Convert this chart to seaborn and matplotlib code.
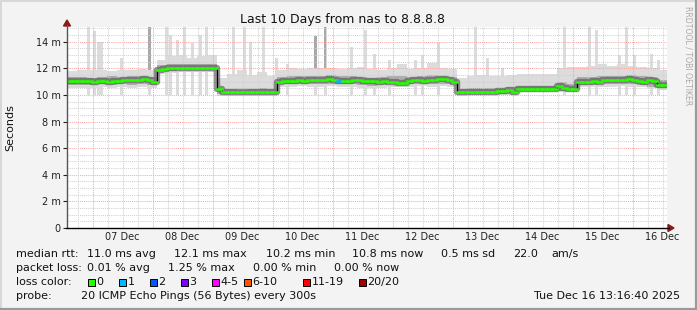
import numpy as np
import pandas as pd
import matplotlib
matplotlib.use("Agg")
import matplotlib.pyplot as plt
from matplotlib.patches import Rectangle, Polygon
from matplotlib.lines import Line2D
import seaborn as sns

# ---------------- data ----------------
START = 0.575            # days since 06 Dec 00:00 (left edge of graph)
SPAN = 10.0              # days shown

# median rtt (ms), 2-hour bins
median_ms = [
    11.05, 11.05, 11.05, 11.08, 11.08, 11.00, 11.05, 11.05, 10.97, 11.02,
    11.05, 11.10, 11.15, 11.10, 11.10, 11.20, 11.10, 11.00, 11.85, 11.98,
    12.00, 12.00, 12.00, 12.02, 12.05, 12.00, 12.00, 12.05, 12.05, 12.05,
    10.45, 10.25, 10.20, 10.20, 10.20, 10.20, 10.20, 10.22, 10.25, 10.25,
    10.20, 10.20, 10.95, 11.05, 11.05, 11.08, 11.10, 11.05, 11.10, 11.10,
    11.12, 11.15, 11.22, 11.10, 11.05, 11.08, 11.05, 11.10, 11.10, 11.05,
    11.05, 11.05, 11.00, 11.05, 11.00, 10.95, 10.90, 10.90, 11.05, 11.10,
    11.10, 11.05, 11.10, 11.10, 11.20, 11.22, 11.15, 11.00, 10.20, 10.25,
    10.25, 10.22, 10.25, 10.25, 10.22, 10.25, 10.28, 10.30, 10.35, 10.22,
    10.45, 10.45, 10.45, 10.45, 10.45, 10.47, 10.45, 10.45, 10.70, 10.55,
    10.45, 10.42, 10.98, 10.98, 11.00, 11.05, 11.00, 11.10, 11.10, 11.10,
    11.10, 11.15, 11.20, 11.10, 11.05, 10.95, 11.10, 11.05, 10.75, 10.72,
]
loss_bins = [54]          # 2-hour bins with packet loss
loss_counts = [1]

# smoke envelope (ms), 4-hour bins
smoke_lo = [
    10.50, 10.55, 10.55, 10.60, 10.55, 10.60, 10.55, 10.60, 10.55,
    11.55, 11.65, 11.70, 11.70, 11.70, 11.70,
    9.95, 9.95, 9.95, 9.95, 9.95, 9.95,
    10.60, 10.60, 10.65, 10.60, 10.60, 10.65, 10.60, 10.60, 10.55, 10.50,
    10.55, 10.60, 10.60, 10.60, 10.65, 10.60, 10.65, 10.60,
    9.95, 10.00, 10.00, 10.00, 10.00, 10.00,
    10.20, 10.20, 10.20, 10.20,
    10.20, 10.25,
    10.60, 10.60, 10.60, 10.60, 10.65, 10.60, 10.60, 10.50, 10.40,
]
smoke_mid_lo = [
    10.75, 10.78, 10.75, 10.80, 10.75, 10.80, 10.78, 10.80, 10.75,
    11.80, 11.82, 11.85, 11.85, 11.85, 11.85,
    10.05, 10.05, 10.05, 10.05, 10.05, 10.05,
    10.80, 10.82, 10.85, 10.82, 10.85, 10.85, 10.82, 10.80, 10.75, 10.70,
    10.75, 10.80, 10.80, 10.82, 10.85, 10.85, 10.85, 10.80,
    10.08, 10.10, 10.10, 10.10, 10.10, 10.12,
    10.30, 10.30, 10.30, 10.30,
    10.30, 10.30,
    10.75, 10.78, 10.80, 10.82, 10.85, 10.85, 10.78, 10.60, 10.50,
]
smoke_mid_hi = [
    11.35, 11.35, 11.30, 11.35, 11.40, 11.35, 11.40, 11.45, 11.35,
    12.25, 12.30, 12.30, 12.30, 12.35, 12.30,
    10.45, 10.45, 10.40, 10.45, 10.50, 10.45,
    11.35, 11.40, 11.40, 11.40, 11.45, 11.50, 11.40, 11.40, 11.35, 11.30,
    11.35, 11.40, 11.40, 11.35, 11.45, 11.50, 11.45, 11.35,
    10.45, 10.50, 10.50, 10.50, 10.55, 10.60,
    10.65, 10.65, 10.65, 10.70,
    10.95, 10.80,
    11.35, 11.35, 11.40, 11.40, 11.45, 11.50, 11.40, 11.35, 11.10,
]
smoke_hi = [
    11.80, 11.85, 11.90, 11.85, 11.80, 11.90, 11.85, 11.95, 11.85,
    12.60, 12.90, 13.00, 12.80, 12.90, 13.00,
    11.30, 11.60, 11.90, 11.50, 11.70, 11.40,
    11.90, 12.00, 11.95, 12.00, 12.05, 12.00, 11.95, 12.00, 12.10, 11.95,
    11.90, 12.00, 12.30, 11.95, 12.05, 12.40, 12.00, 11.95,
    11.30, 11.40, 11.50, 11.40, 11.45, 11.50,
    11.55, 11.60, 11.60, 11.55,
    12.00, 12.10,
    12.10, 12.20, 12.30, 12.20, 12.30, 12.20, 12.10, 12.00, 11.90,
]

# isolated tall smoke spikes: time (days since 06 Dec 00:00), top (ms)
spike_t = [0.94, 1.03, 1.10, 1.15, 1.49, 1.95, 2.24, 2.30, 2.42, 2.54,
           2.66, 2.80, 2.90, 3.35, 3.53, 3.64, 3.85, 4.07, 4.25, 4.72,
           4.88, 5.31, 5.55, 5.70, 5.95, 6.39, 6.50, 6.76, 7.39, 7.58,
           7.83, 8.86, 9.28, 9.40, 9.78, 9.90, 10.03, 10.32, 10.43]
spike_top = [15.1, 14.8, 14.0, 14.0, 12.8, 15.1, 15.1, 14.5, 14.1, 15.1,
             13.9, 14.5, 15.1, 15.1, 15.1, 14.0, 15.1, 12.8, 12.3, 14.4,
             15.1, 13.6, 14.9, 13.1, 12.6, 12.6, 13.0, 14.0, 15.1, 12.8,
             12.0, 15.1, 15.1, 14.9, 13.0, 15.1, 13.0, 13.1, 12.6]
spike_dark = [5, 19, 20]    # indices of darker spikes

day_labels = ["07 Dec", "08 Dec", "09 Dec", "10 Dec", "11 Dec",
              "12 Dec", "13 Dec", "14 Dec", "15 Dec", "16 Dec"]
y_ticks = [0, 2, 4, 6, 8, 10, 12, 14]
y_labels = ["0", "2 m", "4 m", "6 m", "8 m", "10 m", "12 m", "14 m"]

rtt_stats = ["11.0 ms avg", "12.1 ms max", "10.2 ms min", "10.8 ms now",
             "0.5 ms sd", "22.0", "am/s"]
loss_stats = ["0.01 % avg", "1.25 % max", "0.00 % min", "0.00 % now"]
loss_names = ["0", "1", "2", "3", "4-5", "6-10", "11-19", "20/20"]
loss_colors = ["#26ff00", "#00b8ff", "#0059ff", "#7e00ff", "#ff00ff",
               "#ff5500", "#ff0000", "#a10000"]

# ---------------- figure ----------------
sns.set_theme(style="white")
plt.rcParams["font.family"] = ["DejaVu Sans"]

W, H = 697, 310
BG = "#f3f3f3"
fig = plt.figure(figsize=(W / 100, H / 100), dpi=100, facecolor=BG)

def fx(x):
    return x / W

def fy(y):
    return 1 - y / H

# 3D frame
fig.add_artist(Line2D([0, 1], [fy(0.5), fy(0.5)], color="#d8d8d8", lw=1.4))
fig.add_artist(Line2D([fx(0.5), fx(0.5)], [0, 1], color="#d8d8d8", lw=1.4))
fig.add_artist(Line2D([0, 1], [fy(309), fy(309)], color="#9a9a9a", lw=1.6))
fig.add_artist(Line2D([fx(696), fx(696)], [0, 1], color="#9a9a9a", lw=1.6))

L, R, T, B = 67, 667, 27, 228
ax = fig.add_axes([fx(L), fy(B), (R - L) / W, (B - T) / H])
ax.set_facecolor("white")
YMAX = 15.1
ax.set_xlim(START, START + SPAN)
ax.set_ylim(0, YMAX)

# smoke
t4 = START + np.arange(len(smoke_hi) + 1) / 6.0
def ext(a):
    return np.append(np.asarray(a, float), a[-1])

ax.bar(spike_t, np.asarray(spike_top) - 10.0, bottom=10.0, width=0.05,
       color="#dcdcdc", lw=0, zorder=1, align="center")
ax.bar([spike_t[i] for i in spike_dark],
       [spike_top[i] - 10.6 for i in spike_dark], bottom=10.6, width=0.04,
       color="#a8a8a8", lw=0, zorder=1.1, align="center")
ax.fill_between(t4, ext(smoke_lo), ext(smoke_hi), step="post",
                color="#dcdcdc", lw=0, zorder=1.2)
ax.fill_between(t4, ext(smoke_mid_lo), ext(smoke_mid_hi), step="post",
                color="#adadad", lw=0, zorder=1.5)

# grid (drawn over smoke like rrdtool)
for v in np.arange(0.5, YMAX, 0.5):
    major = abs(v / 2 - round(v / 2)) < 1e-6
    ax.axhline(v, color="#ffa6a6" if major else "#d2d2d2", lw=0.75,
               ls=(0, (1, 1)), zorder=3)
for d in np.arange(0.75, START + SPAN, 0.25):
    if d <= START:
        continue
    major = abs(d - round(d)) < 1e-6
    ax.axvline(d, color="#ffa6a6" if major else "#d2d2d2", lw=0.75,
               ls=(0, (1, 1)), zorder=3)

# median
t2 = START + np.arange(len(median_ms) + 1) / 12.0
df = pd.DataFrame({"t": t2, "median": ext(median_ms)})
ax.step(t2, ext(median_ms), where="post", color="#5a5a5a", lw=4.6,
        alpha=0.65, zorder=4, solid_capstyle="butt")
sns.lineplot(data=df, x="t", y="median", drawstyle="steps-post",
             color="black", lw=0.9, ax=ax, zorder=5, legend=False)
seg_col = [loss_colors[0]] * len(median_ms)
for b, c in zip(loss_bins, loss_counts):
    seg_col[b] = loss_colors[c]
lc = ax.hlines(median_ms, t2[:-1], t2[1:], colors=seg_col, lw=1.8, zorder=6)
lc.set_capstyle("projecting")

# axes styling
for s in ax.spines.values():
    s.set_visible(False)
ax.set_xticks([d + 0.5 for d in range(1, 11)])
ax.set_xticklabels(day_labels)
ax.set_yticks(y_ticks)
ax.set_yticklabels(y_labels)
ax.tick_params(axis="x", length=0, pad=3.2, labelsize=7, colors="#222222")
ax.tick_params(axis="y", length=3, width=0.8, pad=1.6, labelsize=7,
               colors="#222222", left=True)
ax.set_xlabel("")
ax.set_ylabel("")
ax.grid(False)

# axis lines with arrows
fig.add_artist(Line2D([fx(L), fx(L)], [fy(B), fy(T - 2)], color="#555555", lw=1.0))
fig.add_artist(Line2D([fx(L - 1), fx(669)], [fy(B), fy(B)], color="black", lw=1.0))
fig.add_artist(Polygon([[fx(63.5), fy(26)], [fx(70.5), fy(26)], [fx(67), fy(20)]],
                       closed=True, color="#8b1a1a", transform=fig.transFigure))
fig.add_artist(Polygon([[fx(668), fy(224.5)], [fx(668), fy(231.5)], [fx(674), fy(228)]],
                       closed=True, color="#8b1a1a", transform=fig.transFigure))

# texts
fig.text(fx(342), fy(19), "Last 10 Days from nas to 8.8.8.8", ha="center",
         va="center", fontsize=9, color="#111111")
fig.text(fx(10), fy(128), "Seconds", rotation=90, ha="center", va="center",
         fontsize=8, color="#111111")
fig.text(fx(688), fy(6), "RRDTOOL / TOBI OETIKER", rotation=-90, ha="center",
         va="top", fontsize=5.6, color="#a9a9a9")

LF = 8
def t(x, y, s, **kw):
    fig.text(fx(x), fy(y), s, ha=kw.pop("ha", "left"), va="center",
             fontsize=LF, color="#111111", **kw)

t(16, 254, "median rtt:")
for x, s in zip([87, 174, 266, 352, 441, 513, 551], rtt_stats):
    t(x, 254, s)
t(16, 268, "packet loss:")
for x, s in zip([87, 168, 253, 334], loss_stats):
    t(x, 268, s)
t(16, 282, "loss color:")
for x, s, c in zip([88, 119, 150, 181, 212, 244, 303, 359], loss_names, loss_colors):
    fig.add_artist(Rectangle((fx(x), fy(286)), 7 / W, 7 / H, facecolor=c,
                             edgecolor="black", lw=0.7, transform=fig.transFigure))
    t(x + 8.5, 282, s)
t(16, 296, "probe:")
t(81, 296, "20 ICMP Echo Pings (56 Bytes) every 300s")
t(680, 296, "Tue Dec 16 13:16:40 2025", ha="right")

fig.savefig("out.png", dpi=100, facecolor=BG)
